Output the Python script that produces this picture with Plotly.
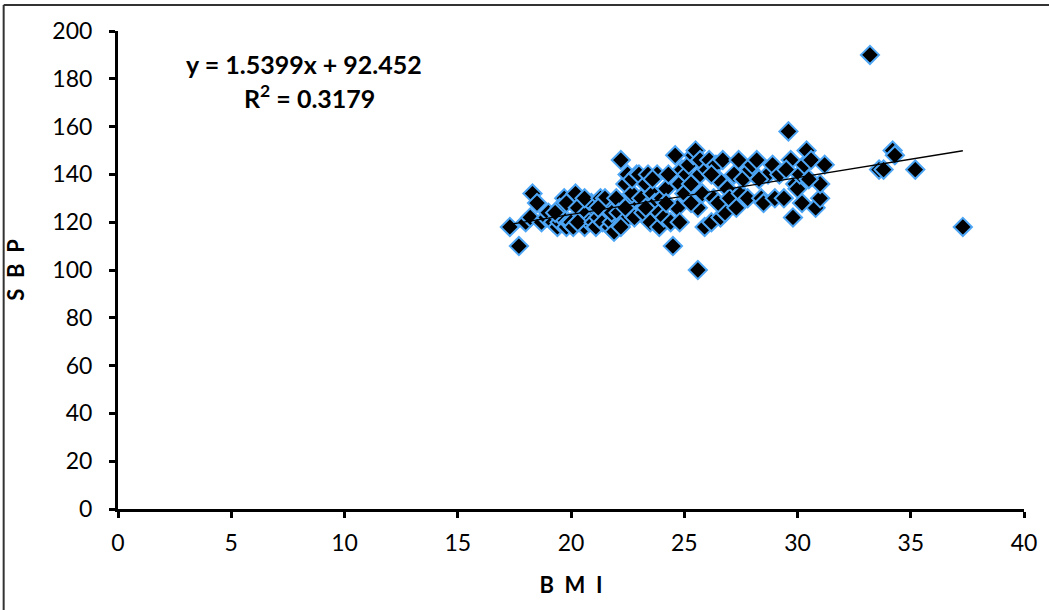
import plotly.graph_objects as go

# BMI (x) and SBP (y) values
bmi = [17.3, 17.7, 18.0, 18.3, 18.5, 18.2, 18.7, 18.9, 19.0,
       19.2, 19.4, 19.5, 19.6, 19.7, 19.8, 19.9, 19.5, 19.3, 19.8,
       20.0, 20.1, 20.2, 20.3, 20.4, 20.5, 20.6, 20.7, 20.8, 20.9, 20.3, 20.6,
       21.0, 21.1, 21.2, 21.3, 21.4, 21.5, 21.6, 21.7, 21.8, 21.9, 21.5, 21.2, 21.8,
       22.0, 22.1, 22.2, 22.3, 22.4, 22.5, 22.6, 22.7, 22.8, 22.9, 22.4, 22.7, 22.2,
       23.0, 23.1, 23.2, 23.3, 23.4, 23.5, 23.6, 23.7, 23.8, 23.9, 23.3, 23.6, 23.9,
       24.0, 24.1, 24.2, 24.3, 24.4, 24.5, 24.6, 24.7, 24.8, 24.9, 24.2, 24.8,
       25.0, 25.1, 25.2, 25.3, 25.4, 25.5, 25.6, 25.6, 25.7, 25.8, 25.9, 25.3, 25.7,
       26.0, 26.1, 26.2, 26.3, 26.4, 26.5, 26.6, 26.7, 26.8, 26.9, 26.2, 26.5,
       27.0, 27.2, 27.4, 27.5, 27.6, 27.8, 27.9, 27.3,
       28.0, 28.2, 28.4, 28.5, 28.7, 28.9, 28.3,
       29.0, 29.2, 29.4, 29.6, 29.7, 29.8, 29.9, 29.5,
       30.0, 30.1, 30.3, 30.4, 30.6, 30.8, 31.0, 31.0, 31.2, 30.5, 30.2,
       33.2, 33.6, 33.8, 34.2, 34.3, 35.2, 37.3]
sbp = [118, 110, 120, 132, 128, 122, 120, 122, 124,
       120, 118, 120, 122, 130, 118, 120, 126, 124, 128,
       120, 118, 132, 126, 120, 122, 118, 124, 120, 128, 120, 130,
       120, 118, 122, 130, 120, 126, 128, 118, 120, 116, 130, 126, 124,
       130, 124, 146, 120, 136, 140, 128, 132, 122, 140, 126, 138, 118,
       140, 130, 124, 136, 140, 120, 132, 128, 140, 118, 126, 138, 124,
       130, 122, 134, 140, 120, 110, 148, 126, 136, 142, 128, 120,
       132, 140, 144, 136, 148, 150, 100, 126, 140, 132, 118, 128, 146,
       142, 146, 120, 130, 144, 138, 122, 146, 124, 134, 140, 128,
       130, 140, 146, 132, 138, 130, 142, 126,
       144, 146, 130, 128, 140, 144, 138,
       130, 140, 130, 158, 146, 122, 136, 142,
       134, 140, 144, 150, 146, 126, 130, 136, 144, 138, 128,
       190, 142, 142, 150, 148, 142, 118]

slope = 1.5399
intercept = 92.452
r_squared = 0.3179

x_ticks = [0, 5, 10, 15, 20, 25, 30, 35, 40]
y_ticks = [0, 20, 40, 60, 80, 100, 120, 140, 160, 180, 200]

fig = go.Figure()
fig.add_trace(go.Scatter(
    x=bmi, y=sbp, mode="markers",
    marker=dict(symbol="diamond", size=14, color="black",
                line=dict(color="#4da6f5", width=2)),
    showlegend=False, hoverinfo="skip"))

xmin, xmax = min(bmi), max(bmi)
fig.add_trace(go.Scatter(
    x=[xmin, xmax], y=[slope * xmin + intercept, slope * xmax + intercept],
    mode="lines", line=dict(color="black", width=1.3),
    showlegend=False, hoverinfo="skip"))

font_family = "Lato, 'Open Sans', sans-serif"

fig.update_layout(
    width=1049, height=610,
    margin=dict(l=118, r=20, t=31, b=101),
    paper_bgcolor="white", plot_bgcolor="white",
    font=dict(family=font_family, color="black"),
    xaxis=dict(range=[0, 40], tickvals=x_ticks, showgrid=False, zeroline=False,
               showline=True, linecolor="black", linewidth=3,
               ticks="outside", ticklen=6, tickwidth=3, tickcolor="black",
               tickfont=dict(size=23), ticklabelstandoff=5,
               title=dict(text="<b>B&nbsp;&nbsp;M&nbsp;&nbsp;I</b>", font=dict(size=22), standoff=24)),
    yaxis=dict(range=[0, 200], tickvals=y_ticks, showgrid=False, zeroline=False,
               showline=True, linecolor="black", linewidth=3,
               ticks="outside", ticklen=6, tickwidth=3, tickcolor="black",
               tickfont=dict(size=23), ticklabelstandoff=12,
               title=dict(text="<b>S&nbsp;&nbsp;B&nbsp;&nbsp;P</b>", font=dict(size=22), standoff=22)),
    shapes=[
        dict(type="line", xref="paper", yref="paper",
             x0=-0.1262, x1=1.03, y0=1.0544, y1=1.0544,
             line=dict(color="#333333", width=2), layer="below"),
        dict(type="line", xref="paper", yref="paper",
             x0=-0.1262, x1=-0.1262, y0=-0.22, y1=1.0544,
             line=dict(color="#333333", width=2), layer="below"),
    ],
    annotations=[
        dict(x=0.205, y=0.931, xref="paper", yref="paper", showarrow=False,
             xanchor="center", yanchor="middle",
             text=f"<b>y = {slope}x + {intercept}</b>", font=dict(size=25)),
        dict(x=0.211, y=0.862, xref="paper", yref="paper", showarrow=False,
             xanchor="center", yanchor="middle",
             text=f"<b>R<sup>2</sup> = {r_squared}</b>", font=dict(size=25)),
    ],
)

fig.write_html("out.html")
